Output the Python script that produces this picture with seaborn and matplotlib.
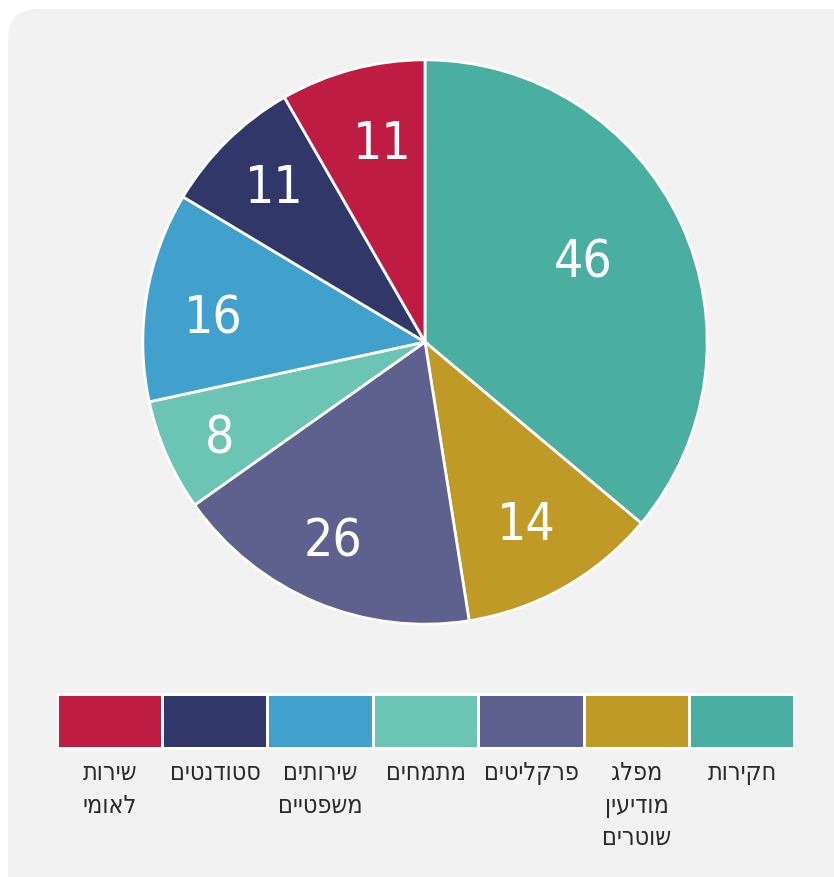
import numpy as np
import pandas as pd
import matplotlib
matplotlib.use("Agg")
import matplotlib.pyplot as plt
import seaborn as sns
from matplotlib import font_manager as fm
from matplotlib.ft2font import FT2Font
from matplotlib.patches import FancyBboxPatch
from matplotlib.transforms import ScaledTranslation

# ---- data (pie order, clockwise from 12 o'clock) ----
categories = ["חקירות", "מפלג\nמודיעין\nשוטרים", "פרקליטים", "מתמחים",
              "שירותים\nמשפטיים", "סטודנטים", "שירות\nלאומי"]
values = [46, 14, 26, 8, 16, 11, 11]                      # printed labels
sector_share = [36.1, 11.4, 17.7, 6.4, 12.0, 8.1, 8.3]   # sector sizes (%) as drawn in the picture
colors = ["#4aaea0", "#c09a27", "#5e608e", "#6bc4b4", "#42a1cc", "#313768", "#be1c42"]

sns.set_style("white")


def pick_font(prefs, ch):
    for name, stretchy in prefs:
        for f in fm.fontManager.ttflist:
            if f.name != name:
                continue
            fn = f.fname
            if any(k in fn for k in ("Bold", "Oblique", "Italic", "Light", "ExtraLight", "Mono")):
                continue
            is_cond = "Condensed" in fn or str(f.stretch) in ("condensed", "semi-condensed")
            if stretchy != is_cond:
                continue
            try:
                if ord(ch) in FT2Font(fn).get_charmap():
                    return fm.FontProperties(fname=fn)
            except Exception:
                pass
    return fm.FontProperties(family="DejaVu Sans")


heb_font = pick_font([("Liberation Sans Narrow", False), ("DejaVu Sans", True),
                      ("Liberation Sans", False), ("DejaVu Sans", False)], "ש")
num_font = pick_font([("Roboto Condensed", False), ("Liberation Sans Narrow", False),
                      ("DejaVu Sans", True), ("DejaVu Sans", False)], "4")


def rtl(s):
    return "\n".join(line[::-1] for line in s.split("\n"))


W, H = 834, 878
fig = plt.figure(figsize=(W / 100, H / 100), dpi=100)
fig.patch.set_facecolor("white")

# background canvas in pixel coordinates
bg = fig.add_axes([0, 0, 1, 1])
bg.set_xlim(0, W)
bg.set_ylim(H, 0)
bg.axis("off")
bg.add_patch(FancyBboxPatch((8, 10), 826 + 40, 900, boxstyle="round,pad=0,rounding_size=30",
                            facecolor="#f2f2f2", edgecolor="none"))

# pie
cx, cy, r = 425, 343, 285
pax = fig.add_axes([(cx - r) / W, 1 - (cy + r) / H, 2 * r / W, 2 * r / H])
wedges, _ = pax.pie(sector_share, colors=colors, startangle=90, counterclock=False,
                    wedgeprops=dict(edgecolor="white", linewidth=2))
pax.set_xlim(-1.01, 1.01)
pax.set_ylim(-1.01, 1.01)
pax.set_aspect("equal")
pax.axis("off")

num_size = 37
label_r = [0.636, 0.726, 0.764, 0.796, 0.757, 0.774, 0.735]
label_dang = [3.0, 0.0, -2.5, 0.4, 1.9, -0.9, -3.1]
cap_shift = ScaledTranslation(0, -0.729 * num_size / 2 / 72, fig.dpi_scale_trans)
for w, v, lr, da in zip(wedges, values, label_r, label_dang):
    ang = np.deg2rad((w.theta1 + w.theta2) / 2 + da)
    pax.text(lr * np.cos(ang), lr * np.sin(ang), str(v), color="white",
             fontproperties=num_font, fontsize=num_size, ha="center", va="baseline",
             transform=pax.transData + cap_shift)

# legend swatches drawn with seaborn barplot (left to right = reversed pie order)
leg_cats = [rtl(c) for c in categories[::-1]]
leg_cols = colors[::-1]
df = pd.DataFrame({"cat": leg_cats, "v": [1] * len(leg_cats)})
lx0, lx1, ly0, ly1 = 57, 795, 694, 751
lax = fig.add_axes([lx0 / W, 1 - ly1 / H, (lx1 - lx0) / W, (ly1 - ly0) / H])
lax.set_facecolor("white")
sns.barplot(data=df, x="cat", y="v", hue="cat", palette=leg_cols, legend=False,
            width=0.97, saturation=1, ax=lax, linewidth=0)
lax.set_xlim(-0.5, len(leg_cats) - 0.5)
lax.set_ylim(-0.05, 1.05)
lax.set_xticks([])
lax.set_yticks([])
lax.set_xlabel("")
lax.set_ylabel("")
for s in lax.spines.values():
    s.set_visible(False)

# labels below swatches
step = (lx1 - lx0) / len(leg_cats)
for i, lab in enumerate(leg_cats):
    x = lx0 + step * (i + 0.5)
    bg.text(x, 761, lab, ha="center", va="top", color="#2a2a2a",
            fontproperties=heb_font, fontsize=18, linespacing=1.45)

bg.set_zorder(-1)
fig.savefig("out.png", dpi=100, facecolor="white")
